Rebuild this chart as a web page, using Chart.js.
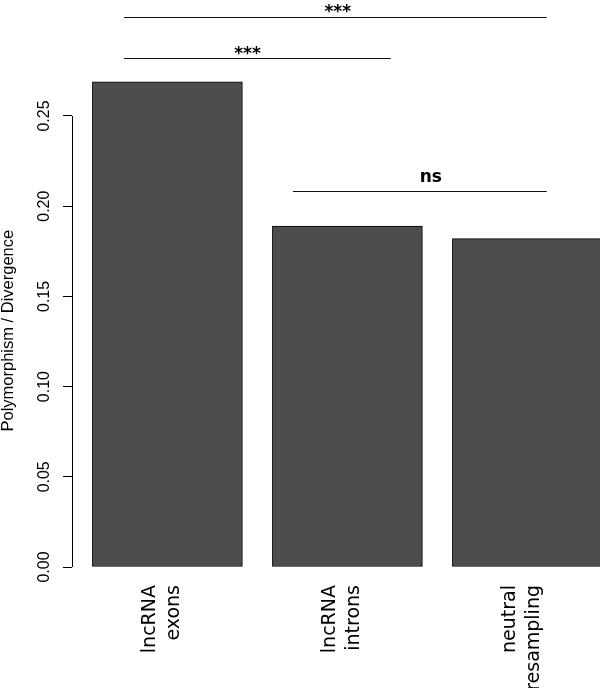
<!DOCTYPE html>
<html>
<head>
<meta charset="utf-8">
<script src="https://cdn.jsdelivr.net/npm/chart.js@4"></script>
<style>
  html, body { margin: 0; padding: 0; background: #fff; overflow: hidden; }
  #wrap { width: 600px; height: 688px; position: relative; }
</style>
</head>
<body>
<div id="wrap"><canvas id="chart"></canvas></div>
<script>
// categories (two-line labels) and bar heights
const categories = [['lncRNA', 'exons'], ['lncRNA', 'introns'], ['neutral', 'resampling']];
const ratios = [0.269, 0.189, 0.182];
const yTicks = [0, 0.05, 0.10, 0.15, 0.20, 0.25];

// significance brackets (x in barplot units, y in ratio units)
const bracketFrom = [0.411, 0.411, 1.537];
const bracketTo = [3.229, 2.189, 3.229];
const bracketLevel = [0.3050, 0.2822, 0.2086];
const bracketLabels = ['***', '***', 'ns'];
const labelX = [1.836, 1.234, 2.456];
const labelLevel = [0.3050, 0.2818, 0.2134];

// barplot layout: width 1, space 0.2 -> centre of bar i
const barCenters = categories.map((c, i) => 0.2 + 1.2 * i + 0.5);

const annotate = {
    id: 'annotate',
    afterDraw(chart) {
        const ctx = chart.ctx;
        const xs = chart.scales.x;
        const ys = chart.scales.y;
        const area = chart.chartArea;
        ctx.save();

        // y axis line from first to last tick
        ctx.strokeStyle = '#000';
        ctx.lineWidth = 1;
        ctx.beginPath();
        ctx.moveTo(area.left + 0.5, ys.getPixelForValue(yTicks[0]));
        ctx.lineTo(area.left + 0.5, ys.getPixelForValue(yTicks[yTicks.length - 1]));
        ctx.stroke();

        // y axis title
        ctx.fillStyle = '#000';
        ctx.font = '16.5px "Liberation Sans", Arial, sans-serif';
        ctx.textAlign = 'center';
        ctx.textBaseline = 'alphabetic';
        ctx.save();
        ctx.translate(13, (ys.getPixelForValue(0) + ys.getPixelForValue(0.262)) / 2);
        ctx.rotate(-Math.PI / 2);
        ctx.fillText('Polymorphism / Divergence', 0, 0);
        ctx.restore();

        // category labels, rotated, right-justified below the axis
        ctx.font = '19px "DejaVu Sans", sans-serif';
        ctx.textAlign = 'right';
        categories.forEach((lines, i) => {
            const cx = xs.getPixelForValue(barCenters[i]);
            ctx.save();
            ctx.translate(cx, area.bottom + 18);
            ctx.rotate(-Math.PI / 2);
            lines.forEach((ln, k) => {
                ctx.fillText(ln, 0, (k - 0.5) * 24);
            });
            ctx.restore();
        });

        // brackets
        ctx.lineWidth = 1.2;
        ctx.strokeStyle = '#111';
        ctx.font = 'bold 17px "DejaVu Sans", sans-serif';
        ctx.textAlign = 'center';
        bracketLabels.forEach((lab, i) => {
            const y = Math.round(ys.getPixelForValue(bracketLevel[i])) + 0.5;
            ctx.beginPath();
            ctx.moveTo(xs.getPixelForValue(bracketFrom[i]), y);
            ctx.lineTo(xs.getPixelForValue(bracketTo[i]), y);
            ctx.stroke();
            ctx.fillText(lab, xs.getPixelForValue(labelX[i]), ys.getPixelForValue(labelLevel[i]));
        });
        ctx.restore();
    }
};

const ctx = document.getElementById('chart').getContext('2d');
const chart = new Chart(ctx, {
    type: 'bar',
    data: {
        datasets: [{
            data: ratios.map((v, i) => ({ x: barCenters[i], y: v })),
            backgroundColor: '#4d4d4d',
            borderColor: '#000',
            borderWidth: 1,
            borderSkipped: false,
            barThickness: 150
        }]
    },
    options: {
        responsive: true,
        maintainAspectRatio: false,
        animation: false,
        layout: { padding: { top: 0, right: 0, bottom: 121, left: 0 } },
        plugins: {
            legend: { display: false },
            tooltip: { enabled: false }
        },
        scales: {
            x: {
                type: 'linear',
                display: false,
                offset: false,
                min: 0.064,
                max: 3.584
            },
            y: {
                min: 0,
                max: 0.3143,
                afterBuildTicks: function(scale) {
                    scale.ticks = yTicks.map(v => ({ value: v }));
                },
                afterFit: function(scale) {
                    scale.width = 72;
                    scale.paddingTop = 0;
                    scale.paddingBottom = 0;
                },
                border: { display: false },
                grid: {
                    drawOnChartArea: false,
                    drawTicks: true,
                    tickLength: 9,
                    color: '#000',
                    lineWidth: 1
                },
                ticks: {
                    minRotation: 90,
                    maxRotation: 90,
                    crossAlign: 'center',
                    padding: 3,
                    color: '#000',
                    font: { family: '"Liberation Sans", Arial, sans-serif', size: 16 },
                    callback: v => v.toFixed(2)
                }
            }
        }
    },
    plugins: [annotate]
});
</script>
</body>
</html>
